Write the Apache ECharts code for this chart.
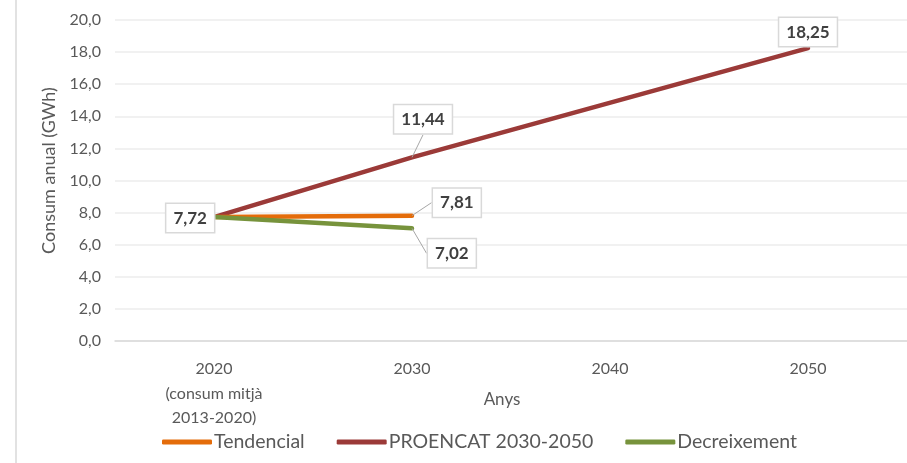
<!DOCTYPE html>
<html>
<head>
<meta charset="utf-8">
<script src="https://cdn.jsdelivr.net/npm/echarts@6/dist/echarts.min.js"></script>
<style>
  html, body { margin: 0; padding: 0; background: #fff; }
  #chart { width: 907px; height: 463px; }
</style>
</head>
<body>
<div id="chart"></div>
<script>
// dades llegides del gràfic
const anys = ['2020\n(consum mitjà\n2013-2020)', '2030', '2040', '2050'];
const tendencial = [7.72, 7.81, null, null];
const proencat = [7.72, 11.44, null, 18.25];
const decreixement = [7.72, 7.02, null, null];
const yTicks = [0, 20, 2];

const fmt = v => v.toFixed(2).replace('.', ',');
const font = 'Lato';
const grey = '#595959';

const boxLabel = {
  show: true,
  formatter: p => fmt(p.value),
  fontFamily: font,
  fontWeight: 'bold',
  fontSize: 17,
  color: '#404040',
  backgroundColor: '#fff',
  borderColor: '#d9d9d9',
  borderWidth: 1.5,
  padding: [6, 7, 5, 7]
};

// etiqueta només als punts indicats
const withLabels = (arr, labels) => arr.map((v, i) => {
  if (labels[i]) return { value: v, label: Object.assign({}, boxLabel, labels[i]) };
  return { value: v, label: { show: false } };
});

// desplaçaments de les etiquetes (px)
const moves = {
  '0-1': { dx: 11, dy: -19 },
  '1-1': { dx: 16, dy: -13 },
  '2-0': { dy: 1 },
  '2-1': { dx: 11, dy: 25 }
};
const layout = p => moves[p.seriesIndex + '-' + p.dataIndex] || {};

const lineLbl = { show: true, lineStyle: { color: '#a6a6a6', width: 1 } };

const chart = echarts.init(document.getElementById('chart'));

const option = {
  animation: false,
  textStyle: { fontFamily: font },
  title: {
    text: 'Anys',
    left: 497,
    top: 386,
    textAlign: 'center',
    textStyle: { fontFamily: font, fontSize: 17, fontWeight: 'normal', color: grey }
  },
  grid: { left: 115, right: 0, top: 20, bottom: 122 },
  legend: {
    bottom: 6,
    left: 157,
    itemWidth: 50,
    itemHeight: 5,
    itemGap: 32,
    icon: 'roundRect',
    textStyle: { fontFamily: font, fontSize: 19.5, color: grey, padding: [0, 0, 0, -3] },
    data: ['Tendencial', 'PROENCAT 2030-2050', 'Decreixement']
  },
  xAxis: {
    type: 'category',
    data: anys,
    boundaryGap: true,
    axisLine: { lineStyle: { color: '#d9d9d9', width: 1.5 } },
    axisTick: { show: false },
    axisLabel: { fontFamily: font, fontSize: 16, color: grey, lineHeight: 24.5, margin: 16 }
  },
  yAxis: {
    type: 'value',
    min: yTicks[0],
    max: yTicks[1],
    interval: yTicks[2],
    name: 'Consum anual (GWh)',
    nameLocation: 'middle',
    nameGap: 57,
    nameTextStyle: { fontFamily: font, fontSize: 18, color: grey, padding: [0, 0, 0, 20] },
    axisLine: { show: false },
    axisTick: { show: false },
    splitLine: { lineStyle: { color: '#ececec', width: 1.5 } },
    axisLabel: { fontFamily: font, fontSize: 16, color: grey, margin: 14, formatter: v => v.toFixed(1).replace('.', ',') }
  },
  series: [
    {
      name: 'PROENCAT 2030-2050',
      type: 'line',
      connectNulls: true,
      symbol: 'circle',
      symbolSize: 0.1,
      showSymbol: true,
      lineStyle: { width: 4.5, color: '#9b3a38', cap: 'round' },
      itemStyle: { color: '#9b3a38' },
      data: withLabels(proencat, {
        1: { position: 'top' },
        3: { position: 'top', distance: 2 }
      }),
      labelLayout: layout,
      labelLine: lineLbl,
      z: 2
    },
    {
      name: 'Tendencial',
      type: 'line',
      symbol: 'circle',
      symbolSize: 0.1,
      showSymbol: true,
      lineStyle: { width: 4.5, color: '#e46c0a', cap: 'round' },
      itemStyle: { color: '#e46c0a' },
      data: withLabels(tendencial, {
        1: { position: 'right' }
      }),
      labelLayout: layout,
      labelLine: lineLbl,
      z: 3
    },
    {
      name: 'Decreixement',
      type: 'line',
      symbol: 'circle',
      symbolSize: 0.1,
      showSymbol: true,
      lineStyle: { width: 4.5, color: '#77933c', cap: 'round' },
      itemStyle: { color: '#77933c' },
      data: withLabels(decreixement, {
        0: { position: 'left', distance: 0 },
        1: { position: 'right' }
      }),
      labelLayout: layout,
      labelLine: lineLbl,
      z: 4
    }
  ],
  graphic: [{
    type: 'line',
    shape: { x1: 16, y1: 0, x2: 16, y2: 463 },
    style: { stroke: '#d9d9d9', lineWidth: 1.5 }
  }]
};

chart.setOption(option);
</script>
</body>
</html>
